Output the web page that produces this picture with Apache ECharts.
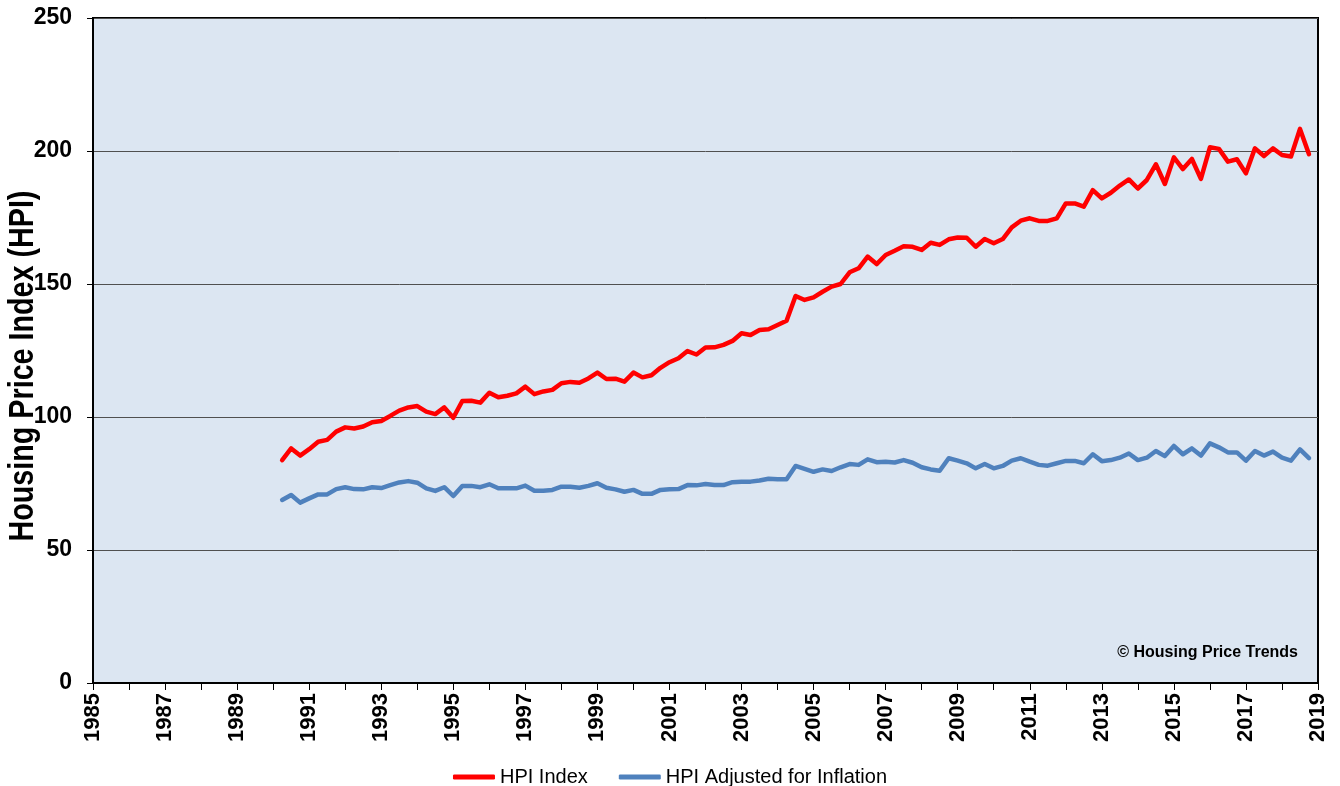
<!DOCTYPE html>
<html>
<head>
<meta charset="utf-8">
<script src="https://cdn.jsdelivr.net/npm/echarts@6/dist/echarts.min.js"></script>
<style>
html,body{margin:0;padding:0;background:#fff;}
#c{width:1340px;height:786px;}
</style>
</head>
<body>
<div id="c"></div>
<script>
// Quarterly observations, first quarter plotted at 1990.25, step of one quarter
const firstQuarter = 1990.25;
const quarterStep = 0.25;

const hpiIndex = [
  83.8, 88.2, 85.5, 87.9, 90.7, 91.4, 94.5, 96.1, 95.7, 96.4,
  98.0, 98.5, 100.4, 102.4, 103.6, 104.1, 102.0, 101.1, 103.6, 99.7,
  106.0, 106.1, 105.4, 109.1, 107.4, 108.0, 108.9, 111.4, 108.6, 109.6,
  110.2, 112.7, 113.2, 112.9, 114.5, 116.7, 114.3, 114.4, 113.3, 116.7,
  114.9, 115.7, 118.5, 120.6, 122.1, 124.8, 123.5, 126.1, 126.2, 127.1,
  128.6, 131.5, 130.8, 132.7, 133.0, 134.6, 136.2, 145.5, 144.0, 145.0,
  147.1, 149.0, 150.0, 154.4, 155.9, 160.3, 157.5, 160.9, 162.5, 164.2,
  164.0, 162.8, 165.5, 164.7, 166.8, 167.5, 167.4, 164.0, 166.9, 165.3,
  166.9, 171.3, 173.8, 174.7, 173.7, 173.7, 174.7, 180.3, 180.3, 179.1,
  185.3, 182.2, 184.3, 187.0, 189.3, 185.9, 189.1, 195.0, 187.6, 197.6,
  193.2, 197.0, 189.5, 201.4, 200.8, 196.0, 196.9, 191.6, 201.0, 198.1,
  201.0, 198.5, 197.9, 208.3, 198.8
];

const hpiAdjusted = [
  68.8, 70.7, 67.8, 69.4, 70.9, 70.9, 72.9, 73.6, 72.9, 72.8,
  73.6, 73.3, 74.4, 75.4, 75.9, 75.3, 73.2, 72.2, 73.6, 70.3,
  74.1, 74.1, 73.6, 74.7, 73.2, 73.2, 73.2, 74.2, 72.3, 72.3,
  72.6, 73.8, 73.8, 73.4, 74.1, 75.1, 73.4, 72.8, 71.9, 72.6,
  71.1, 71.1, 72.6, 72.8, 72.9, 74.4, 74.3, 74.8, 74.4, 74.4,
  75.5, 75.7, 75.7, 76.1, 76.8, 76.6, 76.6, 81.6, 80.5, 79.4,
  80.3, 79.7, 81.1, 82.3, 82.0, 84.1, 83.0, 83.2, 82.9, 83.8,
  82.8, 81.1, 80.3, 79.8, 84.5, 83.6, 82.6, 80.7, 82.3, 80.7,
  81.6, 83.6, 84.5, 83.2, 82.0, 81.7, 82.6, 83.5, 83.5, 82.6,
  86.0, 83.4, 83.8, 84.7, 86.3, 83.8, 84.7, 87.2, 85.3, 89.1,
  86.0, 88.2, 85.5, 90.1, 88.6, 86.7, 86.7, 83.6, 87.2, 85.5,
  87.0, 84.7, 83.6, 87.8, 84.5
];

const seriesNames = ['HPI Index', 'HPI Adjusted for Inflation'];
const yAxisTitle = 'Housing Price Index (HPI)';
const creditText = '\u00A9 Housing Price Trends';
const xMin = 1985, xMax = 2019, yMin = 0, yMax = 250, yStep = 50;

const toPoints = arr => arr.map((v, i) => [firstQuarter + i * quarterStep, v]);

const chart = echarts.init(document.getElementById('c'), null, {renderer: 'canvas'});
chart.setOption({
  animation: false,
  backgroundColor: '#ffffff',
  grid: {
    left: 93, right: 22, top: 18, bottom: 103,
    containLabel: false,
    outerBoundsMode: 'none',
    show: true, backgroundColor: '#DCE6F2', borderColor: '#000', borderWidth: 2
  },
  legend: {
    data: seriesNames,
    left: 'center',
    top: 762,
    icon: 'roundRect',
    itemWidth: 42,
    itemHeight: 5,
    itemGap: 31,
    textStyle: {fontFamily: 'Liberation Sans, Arial', fontSize: 20, color: '#000'}
  },
  xAxis: {
    type: 'value',
    min: xMin, max: xMax, interval: 1,
    axisLine: {show: true, lineStyle: {color: '#000', width: 2}},
    axisTick: {show: true, length: 7, lineStyle: {color: '#000', width: 1}},
    splitLine: {show: false},
    axisLabel: {
      rotate: 90,
      margin: 10,
      fontFamily: 'Liberation Sans, Arial',
      fontWeight: 'bold',
      fontSize: 22,
      color: '#000',
      formatter: v => ((v - xMin) % 2 === 0 ? String(v) : '')
    }
  },
  yAxis: {
    type: 'value',
    min: yMin, max: yMax, interval: yStep,
    axisLine: {show: true, lineStyle: {color: '#000', width: 2}},
    axisTick: {show: true, length: 6, lineStyle: {color: '#000', width: 1}},
    splitLine: {show: true, lineStyle: {color: '#505050', width: 1}},
    axisLabel: {
      margin: 21,
      fontFamily: 'Liberation Sans, Arial',
      fontWeight: 'bold',
      fontSize: 23,
      color: '#000'
    }
  },
  graphic: [
    {
      type: 'text',
      x: 23, y: 366,
      rotation: Math.PI / 2,
      scaleX: 0.82,
      z: 10,
      style: {
        text: yAxisTitle,
        font: 'bold 35px "Liberation Sans", Arial',
        fill: '#000',
        textAlign: 'center',
        textVerticalAlign: 'middle'
      }
    },
    {
      type: 'text',
      right: 42,
      top: 645,
      style: {text: creditText, font: 'bold 16px "Liberation Sans", Arial', fill: '#000'}
    }
  ],
  series: [
    {
      name: seriesNames[0], type: 'line', data: toPoints(hpiIndex),
      symbol: 'none', color: '#FF0000',
      lineStyle: {color: '#FF0000', width: 4.5, cap: 'round', join: 'round'}
    },
    {
      name: seriesNames[1], type: 'line', data: toPoints(hpiAdjusted),
      symbol: 'none', color: '#4F81BD',
      lineStyle: {color: '#4F81BD', width: 4.5, cap: 'round', join: 'round'}
    }
  ]
});
</script>
</body>
</html>
